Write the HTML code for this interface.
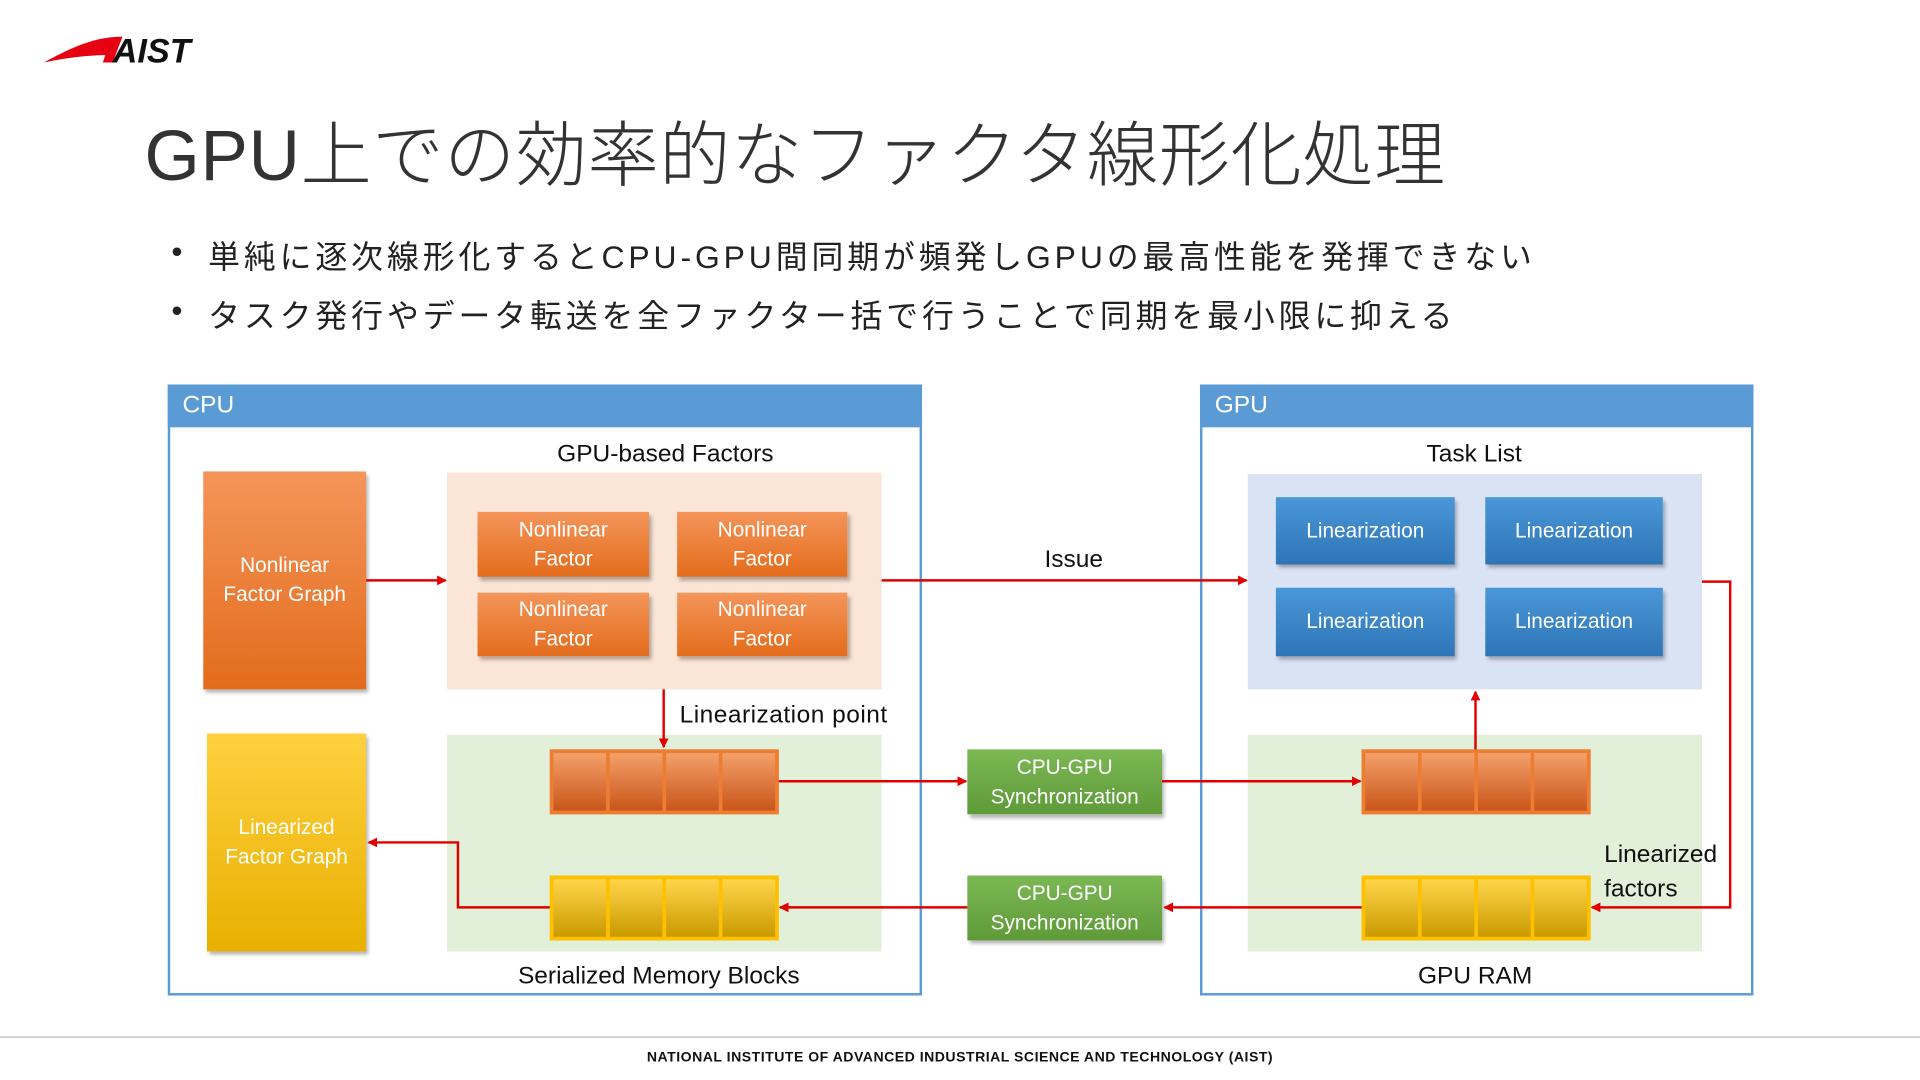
<!DOCTYPE html>
<html><head><meta charset="utf-8"><style>
html,body{margin:0;padding:0;background:#fff;overflow:hidden}
#w{position:absolute;left:0;top:0;width:1568px;height:882px;transform:scale(1.22449);transform-origin:0 0;font-family:"Liberation Sans","Noto Sans CJK JP",sans-serif}
.a{position:absolute;box-sizing:border-box}
.t{position:absolute;white-space:nowrap}
.org{background:linear-gradient(#f4955a,#e36c1c);color:#fff;display:flex;align-items:center;justify-content:center;text-align:center;font-size:17px;line-height:24px;box-shadow:2px 3px 3px rgba(0,0,0,.3)}
.blu{background:linear-gradient(#4a97d8,#2e75b6);color:#fff;display:flex;align-items:center;justify-content:center;font-size:17px;box-shadow:2px 3px 3px rgba(0,0,0,.3)}
.grn{background:linear-gradient(#7cb854,#5e9a38);color:#fff;display:flex;align-items:center;justify-content:center;text-align:center;font-size:17px;line-height:24px;box-shadow:2px 3px 3px rgba(0,0,0,.3)}
.yel{background:linear-gradient(#ffd040,#e8b000);color:#fff;display:flex;align-items:center;justify-content:center;text-align:center;font-size:17px;line-height:24px;box-shadow:2px 3px 3px rgba(0,0,0,.3)}
.row{display:flex;border:3px solid;gap:3px}
.row div{flex:1}
.ro{border-color:#ed7d31;background:#ed7d31}
.ro div{background:linear-gradient(#f4a06a,#c9561a)}
.ry{border-color:#ffc000;background:#ffc000}
.ry div{background:linear-gradient(#ffd54a,#c99a00)}
.lbl{font-size:20px;color:#111}
</style></head><body><div id="w">
<svg class="a" style="left:34px;top:27px" width="140" height="28" viewBox="0 0 140 28">
<path d="M2 24 C20 14 40 4 62 3 L66 3 L58 24 L50 24 L52 18 C40 18 20 20 2 24Z" fill="#e60012"/>
<text x="58" y="24" font-family="Liberation Sans" font-weight="bold" font-style="italic" font-size="28" fill="#111">AIST</text>
</svg>
<div class="t" style="left:118px;top:80px;font-size:58px;font-weight:300;color:#333;letter-spacing:0.6px">GPU上での効率的なファクタ線形化処理</div>
<div class="t" style="left:140px;top:190px;font-size:26px;color:#222">•</div>
<div class="t" style="left:170px;top:190px;font-size:26px;color:#222;letter-spacing:3.2px">単純に逐次線形化するとCPU-GPU間同期が頻発しGPUの最高性能を発揮できない</div>
<div class="t" style="left:140px;top:238px;font-size:26px;color:#222">•</div>
<div class="t" style="left:170px;top:238px;font-size:26px;color:#222;letter-spacing:3.2px">タスク発行やデータ転送を全ファクター括で行うことで同期を最小限に抑える</div>

<div class="a" style="left:137px;top:314px;width:616px;height:499px;border:2px solid #5b9bd5"></div>
<div class="a" style="left:137px;top:314px;width:616px;height:35px;background:#5b9bd5;color:#fff;font-size:20px;padding:6px 12px">CPU</div>
<div class="a" style="left:980px;top:314px;width:452px;height:499px;border:2px solid #5b9bd5"></div>
<div class="a" style="left:980px;top:314px;width:452px;height:35px;background:#5b9bd5;color:#fff;font-size:20px;padding:6px 12px">GPU</div>

<div class="a" style="left:365px;top:386px;width:355px;height:177px;background:#fbe5d6"></div>
<div class="a" style="left:365px;top:600px;width:355px;height:177px;background:#e2f0d9"></div>
<div class="a" style="left:1019px;top:387px;width:371px;height:176px;background:#dae3f3"></div>
<div class="a" style="left:1019px;top:600px;width:371px;height:177px;background:#e2f0d9"></div>

<div class="t lbl" style="left:455px;top:360px">GPU-based Factors</div>
<div class="t lbl" style="left:1165px;top:360px">Task List</div>
<div class="t lbl" style="left:423px;top:786px">Serialized Memory Blocks</div>
<div class="t lbl" style="left:1158px;top:786px">GPU RAM</div>
<div class="t lbl" style="left:853px;top:446px">Issue</div>
<div class="t lbl" style="left:555px;top:573px;letter-spacing:0.4px">Linearization point</div>
<div class="t lbl" style="left:1310px;top:684px;line-height:28px">Linearized<br>factors</div>

<div class="a org" style="left:166px;top:385px;width:133px;height:178px">Nonlinear<br>Factor Graph</div>
<div class="a org" style="left:390px;top:418px;width:140px;height:53px">Nonlinear<br>Factor</div>
<div class="a org" style="left:553px;top:418px;width:139px;height:53px">Nonlinear<br>Factor</div>
<div class="a org" style="left:390px;top:484px;width:140px;height:52px">Nonlinear<br>Factor</div>
<div class="a org" style="left:553px;top:484px;width:139px;height:52px">Nonlinear<br>Factor</div>
<div class="a yel" style="left:169px;top:599px;width:130px;height:178px">Linearized<br>Factor Graph</div>

<div class="a row ro" style="left:449px;top:612px;width:187px;height:53px"><div></div><div></div><div></div><div></div></div>
<div class="a row ry" style="left:449px;top:715px;width:187px;height:53px"><div></div><div></div><div></div><div></div></div>
<div class="a row ro" style="left:1112px;top:612px;width:187px;height:53px"><div></div><div></div><div></div><div></div></div>
<div class="a row ry" style="left:1112px;top:715px;width:187px;height:53px"><div></div><div></div><div></div><div></div></div>

<div class="a grn" style="left:790px;top:612px;width:159px;height:53px">CPU-GPU<br>Synchronization</div>
<div class="a grn" style="left:790px;top:715px;width:159px;height:53px">CPU-GPU<br>Synchronization</div>

<div class="a blu" style="left:1042px;top:406px;width:146px;height:55px">Linearization</div>
<div class="a blu" style="left:1213px;top:406px;width:145px;height:55px">Linearization</div>
<div class="a blu" style="left:1042px;top:480px;width:146px;height:56px">Linearization</div>
<div class="a blu" style="left:1213px;top:480px;width:145px;height:56px">Linearization</div>

<svg class="a" style="left:0;top:0" width="1568" height="882">
<defs><marker id="m" markerWidth="8" markerHeight="8" refX="7" refY="4" orient="auto" markerUnits="userSpaceOnUse"><path d="M0 0 L8 4 L0 8Z" fill="#e00000"/></marker></defs>
<g stroke="#e00000" stroke-width="2" fill="none" marker-end="url(#m)">
<path d="M299 474 H364"/>
<path d="M720 474 H1018"/>
<path d="M542 563 V610"/>
<path d="M636 638 H789"/>
<path d="M949 638 H1111"/>
<path d="M1205 612 V565"/>
<path d="M1390 475 H1413 V741 H1300"/>
<path d="M1112 741 H951"/>
<path d="M790 741 H637"/>
<path d="M449 741 H374 V688 H301"/>
</g>
<line x1="0" y1="847" x2="1568" y2="847" stroke="#bbb" stroke-width="1"/>
</svg>
<div class="t" style="left:0;width:1568px;text-align:center;top:858px;font-size:11.5px;font-weight:bold;color:#111;letter-spacing:0.4px">NATIONAL INSTITUTE OF ADVANCED INDUSTRIAL SCIENCE AND TECHNOLOGY (AIST)</div>
</div></body></html>
